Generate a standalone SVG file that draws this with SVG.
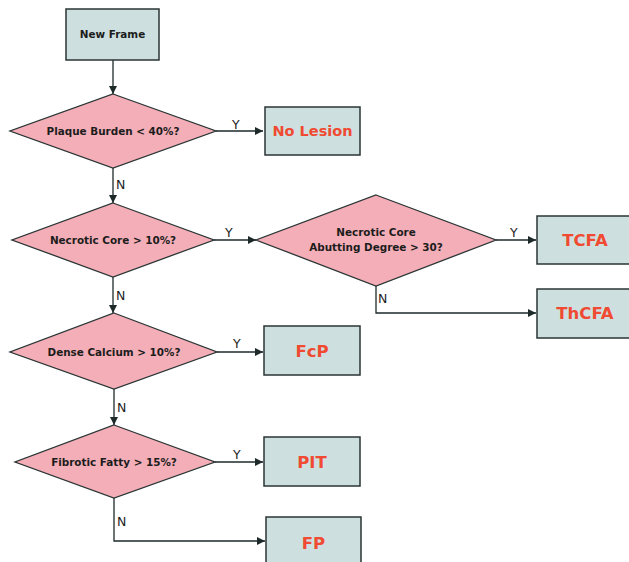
<svg xmlns="http://www.w3.org/2000/svg" width="629" height="562" viewBox="0 0 629 562">
<defs>
<marker id="ah" viewBox="0 0 10 10" refX="10" refY="5" markerWidth="8" markerHeight="8" markerUnits="userSpaceOnUse" orient="auto">
<path d="M0,0 L10,5 L0,10 Z" fill="#1e2a2a"/>
</marker>
<style>
.box{fill:#cde0df;stroke:#2a3434;stroke-width:1.5}
.dia{fill:#f4aeb7;stroke:#2a3434;stroke-width:1.3}
.q{font-family:"DejaVu Sans",Verdana,sans-serif;font-weight:bold;font-size:10.4px;fill:#1c1c1c;text-anchor:middle}
.r{font-family:"DejaVu Sans",Verdana,sans-serif;font-weight:bold;font-size:16.5px;fill:#f04a32;text-anchor:middle}
.yn{font-family:"DejaVu Sans",Verdana,sans-serif;font-size:12.5px;fill:#1c1c1c}
.c{fill:none;stroke:#1e2a2a;stroke-width:1.3;marker-end:url(#ah)}
</style>
</defs>
<rect width="629" height="562" fill="#ffffff"/>
<g id="connectors">
<path class="c" d="M113,60 V94"/>
<path class="c" d="M216,131 H263"/>
<path class="c" d="M113,168 V203"/>
<path class="c" d="M214,240 H256"/>
<path class="c" d="M496,240 H536"/>
<path class="c" d="M376,286 V313 H536"/>
<path class="c" d="M113,277 V313"/>
<path class="c" d="M217,352 H263"/>
<path class="c" d="M114,389 V425"/>
<path class="c" d="M215,462 H263"/>
<path class="c" d="M114,498 V541 H265"/>
<text class="yn" x="232" y="129">Y</text>
<text class="yn" x="116" y="189">N</text>
<text class="yn" x="225" y="237">Y</text>
<text class="yn" x="510" y="237">Y</text>
<text class="yn" x="378" y="303">N</text>
<text class="yn" x="116" y="300">N</text>
<text class="yn" x="233" y="348">Y</text>
<text class="yn" x="117" y="412">N</text>
<text class="yn" x="233" y="459">Y</text>
<text class="yn" x="117" y="526">N</text>
</g>
<g id="new-frame">
<rect class="box" x="66" y="9" width="93" height="51"/>
<text class="q" x="112.5" y="38">New Frame</text>
</g>
<g id="q-plaque">
<polygon class="dia" points="113,94 216,131 113,168 10,131"/>
<text class="q" x="113" y="134.5">Plaque Burden &lt; 40%?</text>
</g>
<g id="no-lesion">
<rect class="box" x="265" y="107" width="95" height="48"/>
<text class="r" x="312.5" y="136" style="font-size:14.5px">No Lesion</text>
</g>
<g id="q-necrotic">
<polygon class="dia" points="113,203 214,240 113,277 12,240"/>
<text class="q" x="113" y="243.5">Necrotic Core &gt; 10%?</text>
</g>
<g id="q-abutting">
<polygon class="dia" points="376,195 496,240 376,286 256,240"/>
<text class="q" x="376" y="236">Necrotic Core</text>
<text class="q" x="376" y="251">Abutting Degree &gt; 30?</text>
</g>
<g id="tcfa">
<rect class="box" x="537" y="216" width="100" height="48"/>
<text class="r" x="585" y="246">TCFA</text>
</g>
<g id="thcfa">
<rect class="box" x="537" y="289" width="100" height="49"/>
<text class="r" x="585" y="319">ThCFA</text>
</g>
<g id="q-calcium">
<polygon class="dia" points="114,313 217,352 114,389 10,352"/>
<text class="q" x="114" y="355.5">Dense Calcium &gt; 10%?</text>
</g>
<g id="fcp">
<rect class="box" x="264" y="326" width="96" height="49"/>
<text class="r" x="312" y="356.5">FcP</text>
</g>
<g id="q-fibrotic">
<polygon class="dia" points="114,425 215,462 114,498 15,462"/>
<text class="q" x="114" y="465.5">Fibrotic Fatty &gt; 15%?</text>
</g>
<g id="pit">
<rect class="box" x="264" y="437" width="96" height="49"/>
<text class="r" x="312" y="467.5">PIT</text>
</g>
<g id="fp">
<rect class="box" x="266" y="517" width="95" height="50"/>
<text class="r" x="313.5" y="549">FP</text>
</g>
</svg>
